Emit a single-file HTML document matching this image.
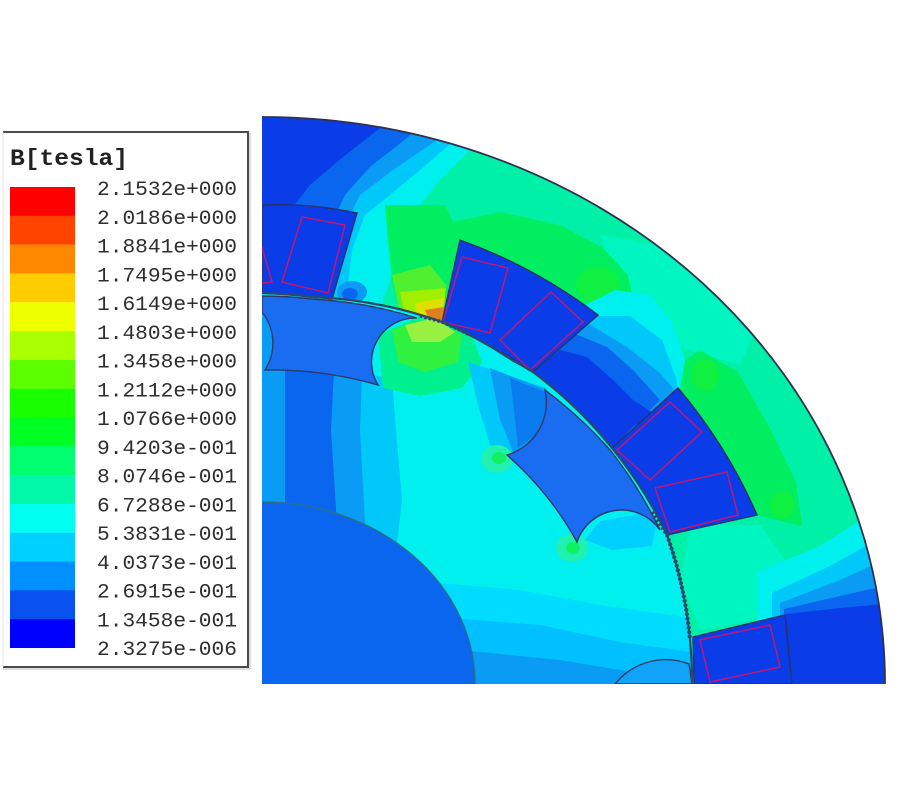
<!DOCTYPE html>
<html><head><meta charset="utf-8"><style>
html,body{margin:0;padding:0;background:#fff;width:900px;height:800px;overflow:hidden;}
svg{display:block;}
</style></head><body>
<svg width="900" height="800" viewBox="0 0 900 800" xmlns="http://www.w3.org/2000/svg">
<defs>
<clipPath id="cp"><path d="M262,684 L262,117 A623,567 0 0 1 885,684 Z"/></clipPath>
<clipPath id="cr"><path d="M262,684 L262,293 A430,430 0 0 1 312,297 A430,430 0 0 1 442,322 A430,430 0 0 1 512,360 A430,430 0 0 1 533,372 A430,430 0 0 1 612,448 A430,430 0 0 1 667,535 A430,430 0 0 1 690,640 A430,430 0 0 1 692,684 Z"/></clipPath>
</defs>
<rect width="900" height="800" fill="#fff"/>

<!-- Legend -->
<g>
<line x1="3" y1="132" x2="249" y2="132" stroke="#4a4a4a" stroke-width="2"/>
<line x1="248" y1="131" x2="248" y2="668" stroke="#4a4a4a" stroke-width="2"/>
<line x1="250" y1="133" x2="250" y2="669" stroke="#bbb" stroke-width="1"/>
<line x1="3" y1="667" x2="249" y2="667" stroke="#4a4a4a" stroke-width="2"/>
<line x1="3" y1="669" x2="250" y2="669" stroke="#bbb" stroke-width="1"/>
<line x1="3" y1="132" x2="3" y2="667" stroke="#e4e4e4" stroke-width="1"/>
<text x="10" y="165" font-family="Liberation Mono, monospace" font-weight="bold" font-size="23" fill="#222" textLength="118" lengthAdjust="spacingAndGlyphs">B[tesla]</text>
<rect x="10" y="187" width="65" height="29" fill="#ff0000"/>
<rect x="10" y="215.8" width="65" height="29" fill="#ff4400"/>
<rect x="10" y="244.6" width="65" height="29" fill="#ff8800"/>
<rect x="10" y="273.4" width="65" height="29" fill="#ffcc00"/>
<rect x="10" y="302.3" width="65" height="29" fill="#eeff00"/>
<rect x="10" y="331.1" width="65" height="29" fill="#aaff00"/>
<rect x="10" y="359.9" width="65" height="29" fill="#5cff00"/>
<rect x="10" y="388.7" width="65" height="29" fill="#18ff00"/>
<rect x="10" y="417.5" width="65" height="29" fill="#00ff22"/>
<rect x="10" y="446.3" width="65" height="29" fill="#00ff70"/>
<rect x="10" y="475.1" width="65" height="29" fill="#00f8a8"/>
<rect x="10" y="503.9" width="65" height="29" fill="#00fff0"/>
<rect x="10" y="532.7" width="65" height="29" fill="#00d0ff"/>
<rect x="10" y="561.5" width="65" height="29" fill="#0090ff"/>
<rect x="10" y="590.3" width="65" height="29" fill="#0a52f0"/>
<rect x="10" y="619.1" width="65" height="28.9" fill="#0000ff"/>
<g font-family="Liberation Mono, monospace" font-size="20" fill="#2e2e2e">
<text x="97" y="195" textLength="140" lengthAdjust="spacingAndGlyphs">2.1532e+000</text>
<text x="97" y="223.75" textLength="140" lengthAdjust="spacingAndGlyphs">2.0186e+000</text>
<text x="97" y="252.5" textLength="140" lengthAdjust="spacingAndGlyphs">1.8841e+000</text>
<text x="97" y="281.25" textLength="140" lengthAdjust="spacingAndGlyphs">1.7495e+000</text>
<text x="97" y="310" textLength="140" lengthAdjust="spacingAndGlyphs">1.6149e+000</text>
<text x="97" y="338.75" textLength="140" lengthAdjust="spacingAndGlyphs">1.4803e+000</text>
<text x="97" y="367.5" textLength="140" lengthAdjust="spacingAndGlyphs">1.3458e+000</text>
<text x="97" y="396.25" textLength="140" lengthAdjust="spacingAndGlyphs">1.2112e+000</text>
<text x="97" y="425" textLength="140" lengthAdjust="spacingAndGlyphs">1.0766e+000</text>
<text x="97" y="453.75" textLength="140" lengthAdjust="spacingAndGlyphs">9.4203e-001</text>
<text x="97" y="482.5" textLength="140" lengthAdjust="spacingAndGlyphs">8.0746e-001</text>
<text x="97" y="511.25" textLength="140" lengthAdjust="spacingAndGlyphs">6.7288e-001</text>
<text x="97" y="540" textLength="140" lengthAdjust="spacingAndGlyphs">5.3831e-001</text>
<text x="97" y="568.75" textLength="140" lengthAdjust="spacingAndGlyphs">4.0373e-001</text>
<text x="97" y="597.5" textLength="140" lengthAdjust="spacingAndGlyphs">2.6915e-001</text>
<text x="97" y="626.25" textLength="140" lengthAdjust="spacingAndGlyphs">1.3458e-001</text>
<text x="97" y="655" textLength="140" lengthAdjust="spacingAndGlyphs">2.3275e-006</text>
</g>
</g>

<!-- Plot -->
<g clip-path="url(#cp)">
<!-- stator field -->
<path d="M262,684 L262,117 A623,567 0 0 1 885,684 Z" fill="#00f0a8"/>
<polygon points="600,235 690,250 760,320 740,365 670,345 625,300" fill="#00f6c0"/>
<polygon points="690,525 760,525 785,560 780,615 700,630 680,580" fill="#00f6c0"/>
<polygon points="452,222 500,212 560,225 603,248 628,275 634,305 610,320 598,315 460,240" fill="#00ee60"/>
<ellipse cx="598" cy="285" rx="22" ry="18" fill="#10f040"/>
<polygon points="668,372 700,350 738,372 772,432 796,482 802,526 757,515 678,388" fill="#00ee60"/>
<ellipse cx="705" cy="375" rx="14" ry="16" fill="#10f040"/>
<ellipse cx="782" cy="505" rx="12" ry="14" fill="#10f040"/>
<!-- bottom-right bands -->
<polygon points="757,572 820,546 884,505 884,684 757,684" fill="#00f0f0"/>
<polygon points="772,593 830,566 884,536 884,684 772,684" fill="#00c8f8"/>
<polygon points="780,603 840,580 884,560 884,684 780,684" fill="#0a9cf5"/>
<polygon points="784,609 840,596 884,586 884,684 784,684" fill="#0a66ee"/>
<polygon points="786,614 840,608 884,604 884,684 786,684" fill="#0a3ce8"/>
<!-- top-left bands -->
<polygon points="262,117 482,117 470,150 440,180 420,205 402,240 390,280 382,305 262,305" fill="#00f0f0"/>
<polygon points="262,117 462,117 455,140 420,170 390,195 365,215 352,250 346,300 262,300" fill="#00c8f8"/>
<polygon points="262,117 447,117 437,140 393,170 360,195 350,215 262,215" fill="#0a9cf5"/>
<polygon points="262,117 425,117 417,130 370,167 345,195 338,210 262,210" fill="#0a66ee"/>
<polygon points="262,117 398,117 393,118 380,128 343,157 310,185 293,207 262,207" fill="#0a3ce8"/>
<ellipse cx="352" cy="292" rx="15" ry="11" fill="#0a9cf5"/>
<ellipse cx="350" cy="294" rx="8" ry="6" fill="#0a66ee"/>
<!-- tooth T1 hot spot -->
<polygon points="385,205 445,205 462,240 443,322 400,315 392,280 388,240" fill="#00ee60"/>
<polygon points="392,275 430,265 446,285 442,320 400,315" fill="#50f030"/>
<polygon points="400,292 446,288 442,320 405,316" fill="#a0f000"/>
<polygon points="415,303 445,298 441,321 418,318" fill="#e0e000"/>
<polygon points="425,310 444,307 441,323 430,322" fill="#e08020"/>
<!-- tooth T2 -->
<polygon points="585,305 615,290 650,295 672,322 685,360 680,390 613,447 533,372" fill="#00f0f0"/>
<polygon points="588,316 630,316 662,340 676,378 678,390 613,447 533,372" fill="#00c8f8"/>
<polygon points="587,323 627,347 660,373 676,392 613,447 533,372" fill="#0a9cf5"/>
<polygon points="573,333 607,347 633,370 660,400 613,447 533,372" fill="#0a66ee"/>
<polygon points="533,372 560,350 587,357 613,380 633,400 653,413 633,427 613,447" fill="#0a3ce8"/>

<!-- rotor field -->
<path d="M262,684 L262,293 A430,430 0 0 1 312,297 A430,430 0 0 1 442,322 A430,430 0 0 1 512,360 A430,430 0 0 1 533,372 A430,430 0 0 1 612,448 A430,430 0 0 1 667,535 A430,430 0 0 1 690,640 A430,430 0 0 1 692,684 Z" fill="#00f0f0"/>
<g clip-path="url(#cr)">
<polygon points="262,300 280,300 280,380 262,380" fill="#0a9cf5"/>
<polygon points="262,360 392,378 396,430 402,500 395,560 262,560" fill="#00c8f8"/>
<polygon points="262,360 362,375 360,430 366,540 262,540" fill="#0a9cf5"/>
<polygon points="285,360 334,372 331,430 338,540 285,540" fill="#0a66ee"/>
<polygon points="378,335 420,316 470,330 482,362 462,388 420,396 383,388" fill="#00f090"/>
<polygon points="392,330 430,318 462,335 458,362 425,372 398,362" fill="#30f040"/>
<polygon points="405,325 435,318 455,332 440,342 412,342" fill="#98f040"/>
<polygon points="468,362 546,388 550,420 515,458 490,445 478,405" fill="#00c8f8"/>
<polygon points="490,368 547,390 545,428 514,454 500,420" fill="#0a9cf5"/>
<polygon points="510,378 548,393 542,430 518,448 514,410" fill="#0a7cf0"/>
<ellipse cx="497" cy="459" rx="16" ry="14" fill="#20f0b0"/>
<ellipse cx="499" cy="458" rx="7" ry="6" fill="#10f060"/>
<ellipse cx="572" cy="548" rx="16" ry="14" fill="#20f0b0"/>
<ellipse cx="573" cy="548" rx="7" ry="6" fill="#10f060"/>
<polygon points="440,583 520,590 600,605 692,618 692,684 440,684" fill="#00dcff"/>
<polygon points="450,618 540,625 620,642 692,652 692,684 450,684" fill="#00c0ff"/>
<polygon points="460,650 560,660 620,670 692,684 460,684" fill="#0a9cf5"/>
<polygon points="585,540 600,521 640,514 656,524 652,546 612,550" fill="#00d0ff"/>
</g>

<!-- rotor slots -->
<g stroke="#2a3a6a" stroke-width="1.4">
<path d="M262,296 A430,430 0 0 1 312,299 A430,430 0 0 1 417,318 A44,44 0 0 0 378,385 A350,318 0 0 0 265,370 A50,50 0 0 0 262,312 Z" fill="#1a6cf0"/>
<path d="M545,390 A430,430 0 0 1 610,450 A430,430 0 0 1 660,530 A47,47 0 0 0 577,542 A350,318 0 0 0 507,455 A55,55 0 0 0 545,390 Z" fill="#1a6cf0"/>
<path d="M692,684 L689,664 A65,65 0 0 0 615,684 Z" fill="#10a4f8"/>
</g>

<!-- hub (quarter ellipse only) -->
<path d="M262,684 L262,502 A213,182 0 0 1 475,684 Z" fill="#0a66ee"/>
<path d="M262,502 A213,182 0 0 1 475,684" fill="none" stroke="#2a7088" stroke-width="1.4"/>

<!-- stator slots -->
<g fill="#0a3ce8" stroke="#2a3068" stroke-width="1.4">
<path d="M262,205 Q310,203 357,213 L332,299 Q300,295 262,293 Z"/>
<path d="M460,240 Q535,267 598,315 L533,372 Q490,343 442,322 Z"/>
<path d="M678,388 Q727,446 757,515 L667,535 Q645,488 612,448 Z"/>
<path d="M693,637 L785,615 L792,684 L694,684 Z"/>
</g>
<!-- coils -->
<g fill="none" stroke="#c01878" stroke-width="1.5">
<polygon points="302,217 345,225 328,293 282,282"/>
<polyline points="262,247 272,282 262,283"/>
<polygon points="462,257 508,268 490,333 443,322"/>
<polygon points="551,292 583,322 530,370 500,340"/>
<polygon points="670,402 702,432 650,480 617,450"/>
<polygon points="655,488 727,472 738,515 670,532"/>
<polygon points="700,640 770,625 780,667 710,682"/>
</g>

<!-- bore / air gap -->
<path d="M262,293 A430,430 0 0 1 312,297 A430,430 0 0 1 442,322 A430,430 0 0 1 512,360 A430,430 0 0 1 533,372 A430,430 0 0 1 612,448 A430,430 0 0 1 667,535 A430,430 0 0 1 690,640 A430,430 0 0 1 692,684" fill="none" stroke="#2a4868" stroke-width="2.2"/>
<path d="M652,512 A430,430 0 0 1 667,535 A430,430 0 0 1 690,640" fill="none" stroke="#2a4868" stroke-width="4" stroke-dasharray="2.5 2"/>
<path d="M420,316 A430,430 0 0 1 442,322 A430,430 0 0 1 470,335" fill="none" stroke="#2a4868" stroke-width="3.5" stroke-dasharray="2.5 2"/>
</g>

<!-- outer boundary -->
<path d="M262,117 A623,567 0 0 1 885,684" fill="none" stroke="#303050" stroke-width="1.8"/>
</svg>
</body></html>
